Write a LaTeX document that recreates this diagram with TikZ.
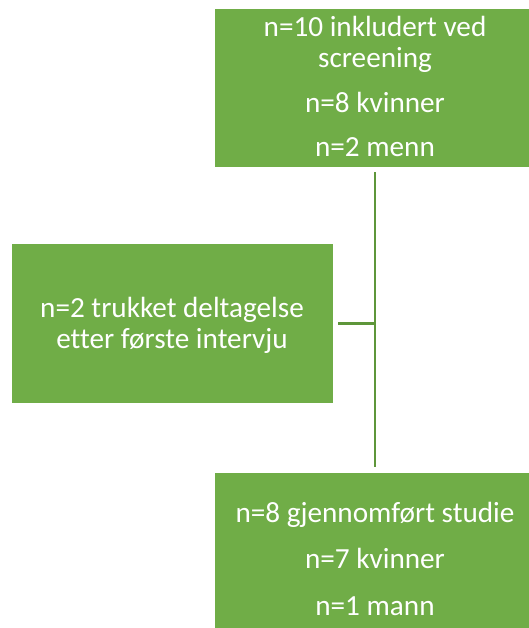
\documentclass[tikz,border=0pt]{standalone}
\usepackage{fontspec}
\setmainfont[Ligatures={NoCommon}]{Carlito}
\definecolor{boxgreen}{HTML}{70AD47}
\definecolor{linkgreen}{HTML}{5E963A}
\begin{document}
\begin{tikzpicture}[x=1pt,y=-1pt,
  box/.style={fill=boxgreen, draw=none, inner sep=0pt, anchor=north west},
  ln/.style={text=white, font=\fontsize{29.2}{31}\selectfont, anchor=base, inner sep=0pt},
  link/.style={draw=linkgreen, line width=2.5pt}]
\useasboundingbox (0,0) rectangle (529,628);
\clip (0,0) rectangle (529,628);

% boxes
\node[box, minimum width=320pt, minimum height=158pt] (top) at (215,9) {};
\node[box, minimum width=321pt, minimum height=159pt] (left) at (12,244) {};
\node[box, minimum width=320pt, minimum height=160pt] (bot) at (215,473) {};

% texts, one node per printed line
\node[ln] (t1) at (375,37) {n=10 inkludert ved};
\node[ln] (t2) at (375,68) {screening};
\node[ln] (t3) at (375,113) {n=8 kvinner};
\node[ln] (t4) at (375,157) {n=2 menn};

\node[ln] (l1) at (172,317) {n=2 trukket deltagelse};
\node[ln] (l2) at (172,348) {etter første intervju};

\node[ln] (b1) at (375,522) {n=8 gjennomført studie};
\node[ln] (b2) at (375,568) {n=7 kvinner};
\node[ln] (b3) at (375,615) {n=1 mann};

% connectors
\draw[link] ([yshift=-5pt]top.south) -- ([yshift=6pt]bot.north);
\draw[link] ([xshift=5pt]left.east) -- (left.east -| top.south);
\end{tikzpicture}
\end{document}
